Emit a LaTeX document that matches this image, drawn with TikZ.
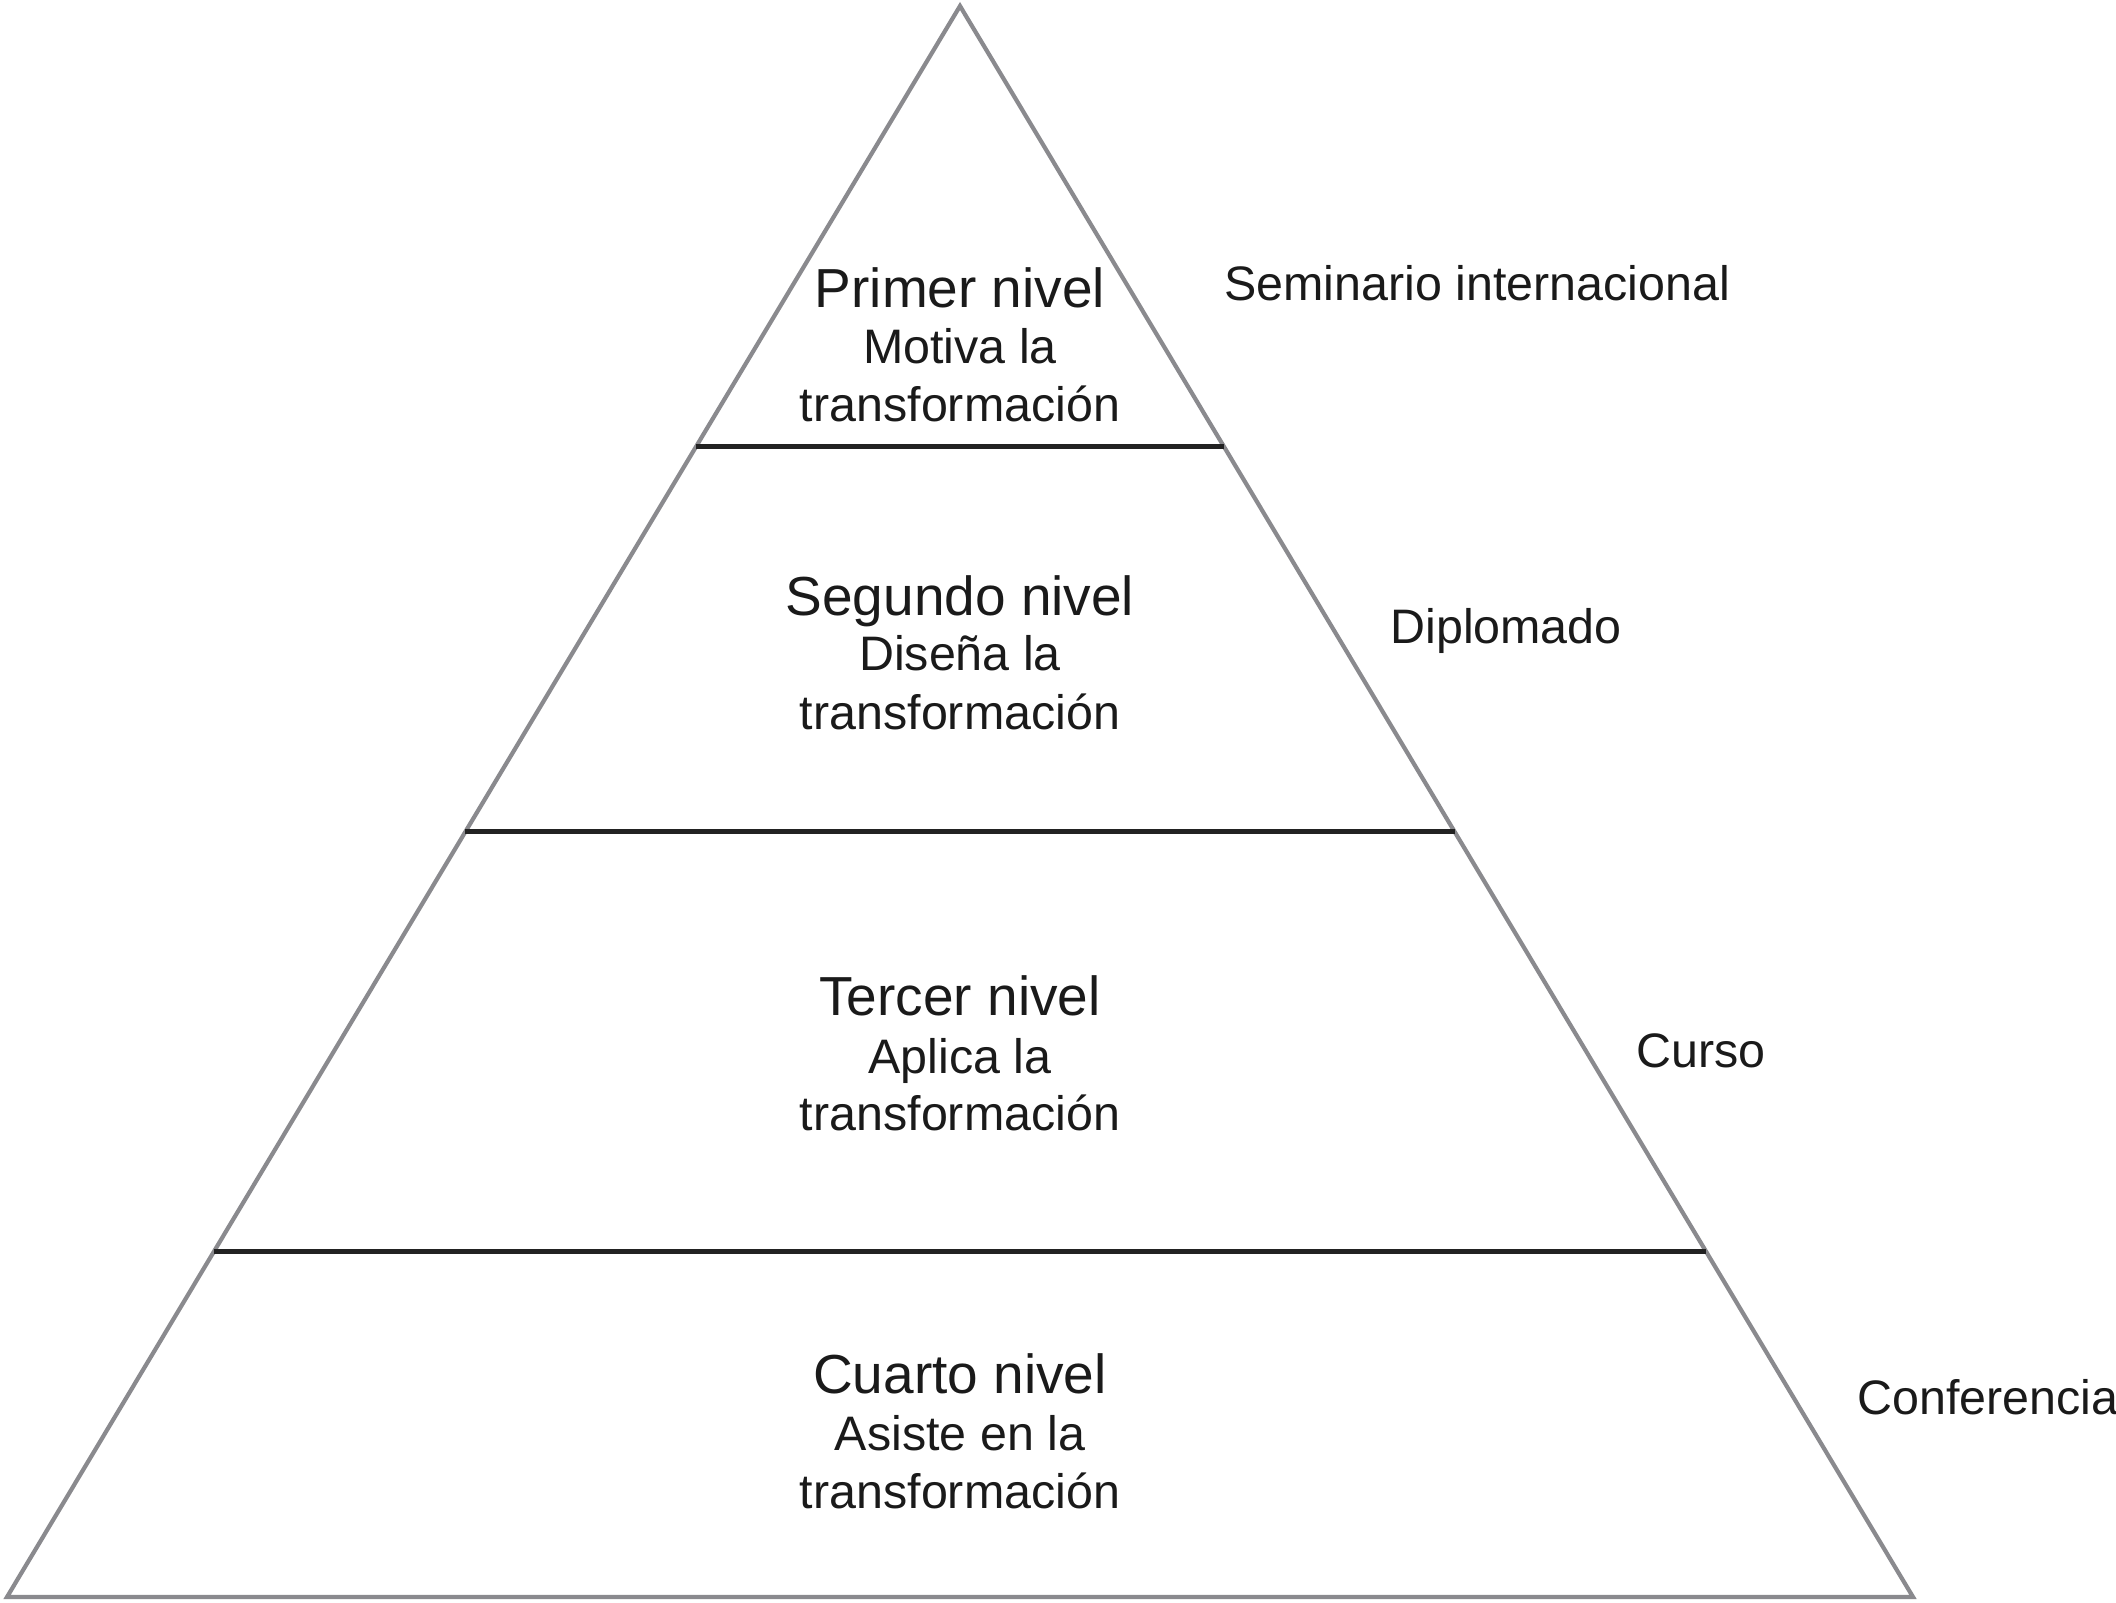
\documentclass[tikz,border=0pt]{standalone}
\usepackage{fontspec}
\setmainfont{Liberation Sans}
\usetikzlibrary{calc}
\definecolor{edgegray}{RGB}{138,138,142}
\definecolor{divider}{RGB}{34,34,34}
\definecolor{ink}{RGB}{26,26,26}
\begin{document}
\begin{tikzpicture}[x=0.5pt,y=-0.5pt,
  edge/.style={draw=edgegray,line width=2.1pt,line join=miter},
  divline/.style={draw=divider,line width=2.6pt},
  title/.style={anchor=base,inner sep=0pt,text=ink,font=\fontsize{27.5}{30}\selectfont},
  sub/.style={anchor=base,inner sep=0pt,text=ink,font=\fontsize{24.2}{28}\selectfont},
  side/.style={anchor=base west,inner sep=0pt,text=ink,font=\fontsize{24.2}{28}\selectfont}]
\useasboundingbox (0,0) rectangle (2116,1602);
\fill[white] (0,0) rectangle (2116,1602);
% triangle
\coordinate (apex) at (960,6);
\coordinate (bl) at (7,1597);
\coordinate (br) at (1913,1597);
\draw[edge] (apex) -- (bl) -- (br) -- cycle;
% dividers
\coordinate (d1l) at ($(apex)!0.2770!(bl)$);
\coordinate (d1r) at ($(apex)!0.2770!(br)$);
\coordinate (d2l) at ($(apex)!0.5189!(bl)$);
\coordinate (d2r) at ($(apex)!0.5189!(br)$);
\coordinate (d3l) at ($(apex)!0.7828!(bl)$);
\coordinate (d3r) at ($(apex)!0.7828!(br)$);
\draw[divline] (d1l) -- (d1r);
\draw[divline] (d2l) -- (d2r);
\draw[divline] (d3l) -- (d3r);
% level texts
\node[title] (t1) at (960,307) {Primer nivel};
\node[sub] (s1a) at (960,363) {Motiva la};
\node[sub] (s1b) at (960,421) {transformación};
\node[title] (t2) at (960,615) {Segundo nivel};
\node[sub] (s2a) at (960,670) {Diseña la};
\node[sub] (s2b) at (960,729) {transformación};
\node[title] (t3) at (960,1015) {Tercer nivel};
\node[sub] (s3a) at (960,1073) {Aplica la};
\node[sub] (s3b) at (960,1130) {transformación};
\node[title] (t4) at (960,1393) {Cuarto nivel};
\node[sub] (s4a) at (960,1450) {Asiste en la};
\node[sub] (s4b) at (960,1508) {transformación};
% side labels
\node[side] (l1) at (1224,300) {Seminario internacional};
\node[side] (l2) at (1390,643) {Diplomado};
\node[side] (l3) at (1636,1067) {Curso};
\node[side] (l4) at (1857,1414) {Conferencia};
\end{tikzpicture}
\end{document}
